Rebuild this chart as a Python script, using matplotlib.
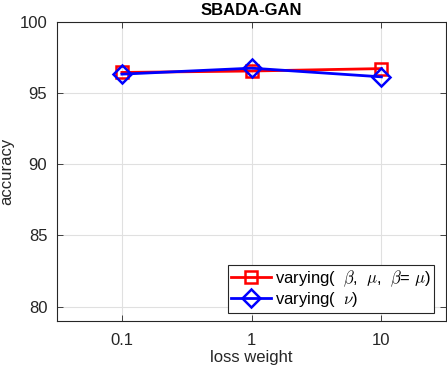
import matplotlib
matplotlib.use("Agg")
import matplotlib.pyplot as plt

plt.rcParams["font.family"] = ["Liberation Sans", "DejaVu Sans"]
plt.rcParams["mathtext.fontset"] = "cm"

loss_weight = [0.1, 1, 10]
acc_beta_mu = [96.45, 96.55, 96.72]
acc_nu = [96.33, 96.75, 96.14]
x_ticklabels = ["0.1", "1", "10"]
y_ticks = [80, 85, 90, 95, 100]

fig = plt.figure(figsize=(4.47, 3.71), dpi=100)
ax = fig.add_axes([0.1275, 0.135, 0.871, 0.806])

ax.plot(loss_weight, acc_beta_mu, color="red", lw=2, marker="s", ms=9,
        mfc="none", mew=1.8, label=r"varying(  $\beta$,  $\mu$,  $\beta$= $\mu$)")
ax.plot(loss_weight, acc_nu, color="blue", lw=2, marker="D", ms=9,
        mfc="none", mew=1.8, label=r"varying(  $\nu$)")

ax.set_xscale("log")
ax.set_xlim(10 ** -1.5, 10 ** 1.5)
ax.set_ylim(79, 100)
ax.set_xticks(loss_weight)
ax.set_xticklabels(x_ticklabels)
ax.minorticks_off()
ax.set_yticks(y_ticks)

ax.grid(True, color="#e0e0e0", lw=0.8)
ax.set_axisbelow(True)
ax.tick_params(direction="in", top=True, right=True, labelsize=12,
               colors="#262626", length=4, width=0.6)
ax.tick_params(axis="x", pad=9)
ax.tick_params(axis="y", pad=7)
for s in ax.spines.values():
    s.set_color("#262626")
    s.set_linewidth(0.8)

ax.set_xlabel("loss weight", fontsize=12, color="#262626", labelpad=1)
ax.set_ylabel("accuracy", fontsize=12, color="#262626")
ax.set_title("SBADA-GAN", fontsize=12, fontweight="bold", pad=5)

leg = ax.legend(loc="lower right", bbox_to_anchor=(0.968, 0.028), fontsize=12,
                fancybox=False, framealpha=1, edgecolor="#262626",
                handlelength=2.4, borderpad=0.2, labelspacing=0.1,
                handletextpad=0.2, borderaxespad=0)
leg.get_frame().set_linewidth(0.8)

fig.savefig("out.png", dpi=100)
